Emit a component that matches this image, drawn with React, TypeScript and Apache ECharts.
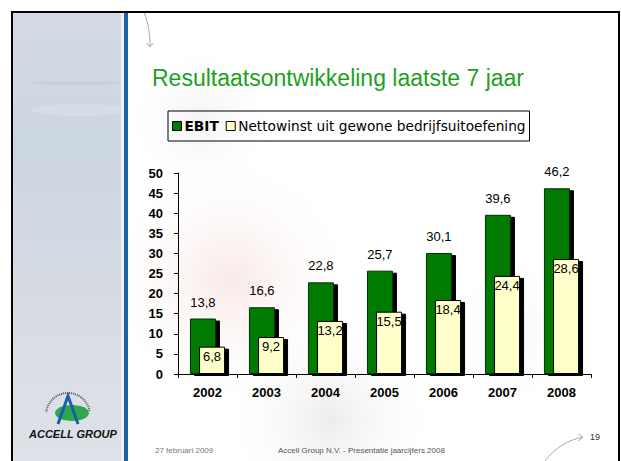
import React, { useEffect, useRef } from "react";
import * as echarts from "echarts";

const categories = ["2002", "2003", "2004", "2005", "2006", "2007", "2008"];
const ebitValues = [13.8, 16.6, 22.8, 25.7, 30.1, 39.6, 46.2];
const nettoValues = [6.8, 9.2, 13.2, 15.5, 18.4, 24.4, 28.6];
const seriesNames = ["EBIT", "Nettowinst uit gewone bedrijfsuitoefening"];
const titleText = "Resultaatsontwikkeling laatste 7 jaar";
const footerDate = "27 februari 2009";
const footerCenter = "Accell Group N.V. - Presentatie jaarcijfers 2008";
const pageNumber = "19";

const FONT = "'Liberation Sans', Arial, sans-serif";
const fmt = (p: any) => String(p.value).replace(".", ",");

export default function App() {
  const ref = useRef<HTMLDivElement>(null);
  useEffect(() => {
    document.body.style.margin = "0";
    const chart = echarts.init(ref.current!, null, { renderer: "svg" });
    const blob = (cx: number, cy: number, r: number, color: string) => ({
      type: "circle",
      z: -20,
      silent: true,
      shape: { cx, cy, r },
      style: {
        fill: new echarts.graphic.RadialGradient(0.5, 0.5, 0.5, [
          { offset: 0, color },
          { offset: 1, color: "rgba(255,255,255,0)" },
        ]),
      },
    });
    chart.setOption({
      animation: false,
      backgroundColor: "#ffffff",
      textStyle: { fontFamily: FONT },
      title: {
        text: titleText,
        left: 147,
        top: 61,
        textStyle: { color: "#1f9f1f", fontSize: 23, fontWeight: "normal", fontFamily: FONT },
      },
      legend: {
        left: 168,
        top: 111,
        data: seriesNames,
        borderColor: "#000",
        borderWidth: 1,
        padding: [8, 4, 8, 4],
        itemGap: 7,
        itemWidth: 9,
        itemHeight: 9,
        icon: "rect",
        itemStyle: { borderColor: "#000", borderWidth: 1 },
        formatter: (name: string) => (name === "EBIT" ? "{b|EBIT}" : name),
        textStyle: {
          color: "#000",
          fontSize: 13.7,
          fontFamily: "'DejaVu Sans', sans-serif",
          padding: [0, 0, 0, -2],
          rich: { b: { fontWeight: "bold", fontSize: 13.7, fontFamily: "'DejaVu Sans', sans-serif", color: "#000" } },
        },
      },
      grid: { left: 178, right: 30, top: 173, bottom: 87 },
      xAxis: {
        type: "category",
        data: categories,
        axisLine: { lineStyle: { color: "#000", width: 1 } },
        axisTick: { show: true, length: 4, lineStyle: { color: "#000" } },
        axisLabel: { color: "#000", fontSize: 13, fontWeight: "bold", margin: 12, fontFamily: FONT },
      },
      yAxis: {
        type: "value",
        min: 0,
        max: 50,
        interval: 5,
        splitLine: { show: false },
        axisLine: { show: true, lineStyle: { color: "#000", width: 1 } },
        axisTick: { show: true, length: 4, lineStyle: { color: "#000" } },
        axisLabel: { color: "#000", fontSize: 13, fontWeight: "bold", margin: 15, fontFamily: FONT },
      },
      series: [
        {
          name: seriesNames[0],
          type: "bar",
          data: ebitValues,
          barWidth: 26,
          barGap: "-65%",
          itemStyle: {
            color: "#007a00",
            borderColor: "#003000",
            borderWidth: 1,
            shadowColor: "#000",
            shadowBlur: 0,
            shadowOffsetX: 4,
            shadowOffsetY: 2,
          },
          label: {
            show: true,
            position: "top",
            distance: 10,
            formatter: fmt,
            color: "#000",
            fontSize: 13,
            fontFamily: FONT,
          },
        },
        {
          name: seriesNames[1],
          type: "bar",
          data: nettoValues,
          barWidth: 26,
          itemStyle: {
            color: "#ffffcc",
            borderColor: "#000",
            borderWidth: 1,
            shadowColor: "#000",
            shadowBlur: 0,
            shadowOffsetX: 4,
            shadowOffsetY: 2,
          },
          label: {
            show: true,
            position: "insideTop",
            distance: 3,
            formatter: fmt,
            color: "#000",
            fontSize: 13,
            fontFamily: FONT,
          },
        },
      ],
      graphic: [
        blob(230, 280, 130, "rgba(238,205,200,0.45)"),
        blob(330, 420, 110, "rgba(200,200,205,0.35)"),
        blob(200, 120, 80, "rgba(225,225,230,0.4)"),
        blob(520, 330, 90, "rgba(235,235,238,0.3)"),
        {
          type: "rect",
          z: -15,
          silent: true,
          shape: { x: 12, y: 12, width: 109, height: 460 },
          style: {
            fill: new echarts.graphic.LinearGradient(0, 0, 0, 1, [
              { offset: 0, color: "#d4dae4" },
              { offset: 0.3, color: "#ccd6e0" },
              { offset: 0.6, color: "#d6dbe3" },
              { offset: 1, color: "#dfe2e8" },
            ]),
          },
        },
        {
          type: "ellipse",
          z: -14,
          silent: true,
          shape: { cx: 75, cy: 83, rx: 45, ry: 2 },
          style: { fill: "rgba(120,120,140,0.1)" },
        },
        {
          type: "ellipse",
          z: -14,
          silent: true,
          shape: { cx: 80, cy: 110, rx: 50, ry: 6 },
          style: { fill: "rgba(255,255,255,0.15)" },
        },
        {
          type: "rect",
          z: -14,
          silent: true,
          shape: { x: 121, y: 12, width: 3, height: 460 },
          style: { fill: "#eef0f4" },
        },
        {
          type: "rect",
          z: -14,
          silent: true,
          shape: { x: 124, y: 12, width: 4, height: 460 },
          style: { fill: "#1b63a3" },
        },
        {
          type: "rect",
          z: 10,
          silent: true,
          shape: { x: 12, y: 12, width: 607, height: 470 },
          style: { fill: "none", stroke: "#000", lineWidth: 2 },
        },
        {
          type: "bezierCurve",
          z: -5,
          silent: true,
          shape: { x1: 144, y1: 12, x2: 150, y2: 46, cpx1: 149, cpy1: 25, cpx2: 150, cpy2: 36 },
          style: { stroke: "#aaa", lineWidth: 1, fill: "none" },
        },
        {
          type: "polyline",
          z: -5,
          silent: true,
          shape: { points: [[147, 43], [150, 47], [153, 43]] },
          style: { stroke: "#aaa", lineWidth: 1, fill: "none" },
        },
        {
          type: "bezierCurve",
          z: -5,
          silent: true,
          shape: { x1: 545, y1: 461, x2: 583, y2: 437, cpx1: 555, cpy1: 448, cpx2: 568, cpy2: 440 },
          style: { stroke: "#aaa", lineWidth: 1, fill: "none" },
        },
        {
          type: "polyline",
          z: -5,
          silent: true,
          shape: { points: [[578, 434], [583, 437], [578, 441]] },
          style: { stroke: "#aaa", lineWidth: 1, fill: "none" },
        },
        {
          type: "text",
          z: 5,
          x: 155,
          y: 446,
          style: { text: footerDate, fill: "#777", fontSize: 8, fontFamily: FONT },
        },
        {
          type: "text",
          z: 5,
          x: 278,
          y: 446,
          style: { text: footerCenter, fill: "#555", fontSize: 8, fontFamily: FONT },
        },
        {
          type: "text",
          z: 5,
          x: 590,
          y: 432,
          style: { text: pageNumber, fill: "#333", fontSize: 9, fontFamily: FONT },
        },
        {
          type: "ellipse",
          z: 5,
          silent: true,
          shape: { cx: 72, cy: 413, rx: 17, ry: 8 },
          style: { fill: "#2ea84a" },
        },
        {
          type: "polyline",
          z: 6,
          silent: true,
          shape: { points: [[58, 424], [68, 396], [78, 424]] },
          style: { stroke: "#1b5fa8", lineWidth: 3, fill: "none" },
        },
        {
          type: "arc",
          z: 5,
          silent: true,
          shape: { cx: 68, cy: 415, r: 22, startAngle: Math.PI * 1.05, endAngle: Math.PI * 1.95 },
          style: { stroke: "#555", lineWidth: 2, lineDash: [1, 1], fill: "none" },
        },
        {
          type: "text",
          z: 5,
          x: 29,
          y: 428,
          style: {
            text: "ACCELL GROUP",
            fill: "#111",
            fontSize: 11,
            fontWeight: "bold",
            fontStyle: "italic",
            fontFamily: FONT,
          },
        },
      ],
    });
    return () => chart.dispose();
  }, []);
  return <div ref={ref} style={{ width: 621, height: 461 }} />;
}
